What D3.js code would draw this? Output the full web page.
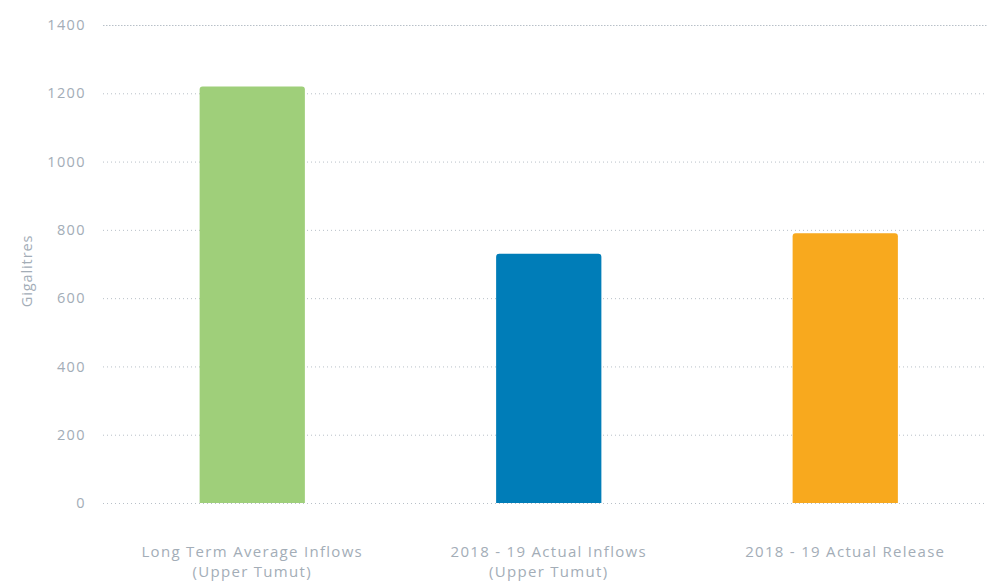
<!DOCTYPE html>
<html>
<head>
<meta charset="utf-8">
<script src="https://cdn.jsdelivr.net/npm/d3@7"></script>
<style>
  body { margin: 0; background: #fff; }
  svg { display: block; font-family: "Open Sans", Lato, sans-serif; }
</style>
</head>
<body>
<svg id="viz"></svg>
<script>
const width = 987, height = 585;

// data
const categories = [
  ["Long Term Average Inflows", "(Upper Tumut)"],
  ["2018 - 19 Actual Inflows", "(Upper Tumut)"],
  ["2018 - 19 Actual Release"]
];
const values = [1220, 730, 790];
const colors = ["#9fcf7a", "#007db8", "#f8a91e"];
const yTicks = [0, 200, 400, 600, 800, 1000, 1200, 1400];

const svg = d3.select("#viz").attr("width", width).attr("height", height);

const x = d3.scaleBand().domain(d3.range(values.length)).range([104, 993.5]).padding(0);
const y = d3.scaleLinear().domain([0, 1400]).range([503, 25]);
const barW = x.bandwidth() * 0.355;
const textCol = "#a3adb7";

// gridlines
svg.append("g")
  .selectAll("line")
  .data(yTicks)
  .join("line")
  .attr("x1", 103).attr("x2", width)
  .attr("y1", d => y(d) + 0.5).attr("y2", d => y(d) + 0.5)
  .attr("stroke", "#b8c0c8")
  .attr("stroke-width", 1)
  .attr("stroke-dasharray", d => d === 1400 ? "1.5,1.5" : "1,3");

// y tick labels
svg.append("g")
  .selectAll("text")
  .data(yTicks)
  .join("text")
  .attr("x", 86).attr("y", d => y(d))
  .attr("dy", "0.35em")
  .attr("text-anchor", "end")
  .attr("fill", textCol)
  .style("font-size", "14.5px")
  .style("letter-spacing", "1.4px")
  .text(d => d);

// y axis title
svg.append("text")
  .attr("transform", "translate(32,271) rotate(-90)")
  .attr("text-anchor", "middle")
  .attr("fill", textCol)
  .style("font-size", "14.5px")
  .style("letter-spacing", "0.9px")
  .text("Gigalitres");

// bars with rounded top corners
function barPath(x0, y0, w, h, r) {
  return `M${x0},${y0 + h}V${y0 + r}Q${x0},${y0} ${x0 + r},${y0}H${x0 + w - r}Q${x0 + w},${y0} ${x0 + w},${y0 + r}V${y0 + h}Z`;
}

svg.append("g")
  .selectAll("path")
  .data(values)
  .join("path")
  .attr("fill", (d, i) => colors[i])
  .attr("d", (d, i) => {
    const cx = x(i) + x.bandwidth() / 2;
    return barPath(cx - barW / 2, y(d), barW, y(0) - y(d), 3);
  });

// x labels, one text per line
const lines = [];
categories.forEach((c, i) => c.forEach((t, j) => lines.push({ i, j, t })));

svg.append("g")
  .selectAll("text")
  .data(lines)
  .join("text")
  .attr("x", d => x(d.i) + x.bandwidth() / 2)
  .attr("y", d => 557 + d.j * 20)
  .attr("text-anchor", "middle")
  .attr("fill", textCol)
  .style("font-size", "15px")
  .style("letter-spacing", "1.3px")
  .text(d => d.t);
</script>
</body>
</html>
